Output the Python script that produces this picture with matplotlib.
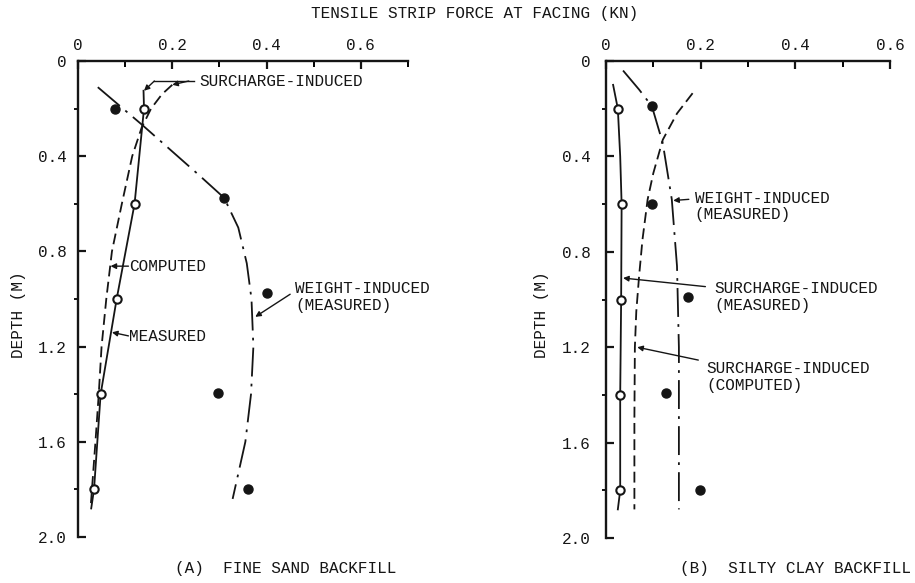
import numpy as np
import matplotlib.pyplot as plt
from matplotlib.ticker import MultipleLocator

# ---- data (force kN, depth m) ----
# (A) fine sand backfill
a_meas_x = [0.139, 0.14, 0.12, 0.082, 0.048, 0.034, 0.028]      # surcharge-induced, measured
a_meas_d = [0.125, 0.2, 0.6, 1.0, 1.4, 1.8, 1.88]
a_comp_x = [0.2, 0.178, 0.155, 0.135, 0.115, 0.093, 0.072, 0.06, 0.05, 0.044, 0.037, 0.027]  # surcharge-induced, computed
a_comp_d = [0.1, 0.14, 0.2, 0.28, 0.4, 0.6, 0.8, 1.0, 1.2, 1.4, 1.6, 1.87]
a_wt_x = [0.042, 0.137, 0.257, 0.31, 0.34, 0.358, 0.368, 0.372, 0.367, 0.355, 0.328]  # weight-induced curve
a_wt_d = [0.11, 0.27, 0.48, 0.575, 0.7, 0.85, 1.0, 1.2, 1.4, 1.6, 1.84]
a_circ_x = [0.14, 0.12, 0.082, 0.048, 0.034]
a_circ_d = [0.2, 0.6, 1.0, 1.4, 1.8]
a_dot_x = [0.078, 0.31, 0.40, 0.297, 0.36]
a_dot_d = [0.2, 0.575, 0.975, 1.395, 1.8]

# (B) silty clay backfill
b_meas_x = [0.015, 0.025, 0.03, 0.033, 0.032, 0.03, 0.03, 0.025]
b_meas_d = [0.1, 0.2, 0.4, 0.6, 1.0, 1.4, 1.8, 1.88]
b_comp_x = [0.183, 0.15, 0.12, 0.1, 0.088, 0.077, 0.07, 0.064, 0.061, 0.06, 0.06]
b_comp_d = [0.135, 0.22, 0.33, 0.47, 0.58, 0.75, 0.9, 1.05, 1.2, 1.5, 1.88]
b_wt_x = [0.036, 0.07, 0.097, 0.12, 0.139, 0.15, 0.154, 0.154]
b_wt_d = [0.04, 0.12, 0.19, 0.345, 0.58, 0.86, 1.2, 1.88]
b_circ_x = [0.025, 0.033, 0.032, 0.03, 0.03]
b_circ_d = [0.2, 0.6, 1.0, 1.4, 1.8]
b_dot_x = [0.097, 0.097, 0.173, 0.126, 0.198]
b_dot_d = [0.19, 0.6, 0.99, 1.39, 1.8]

xticks = [0, 0.2, 0.4, 0.6]
xticklabels = ['0', '0.2', '0.4', '0.6']
yticks = [0, 0.4, 0.8, 1.2, 1.6, 2.0]
yticklabels = ['0', '0.4', '0.8', '1.2', '1.6', '2.0']

ink = '#151515'
plt.rcParams['font.family'] = ['Liberation Mono', 'DejaVu Sans Mono']
plt.rcParams['font.size'] = 11.5
plt.rcParams['text.color'] = ink

DASH = (0, (6, 3))
DASHDOT = (0, (16, 4, 1.5, 4))

fig = plt.figure(figsize=(9.15, 5.83), dpi=100)
axA = fig.add_axes([78/915, 1-537/583, 330/915, 476/583])
axB = fig.add_axes([606/915, 1-538/583, 284/915, 477/583])


def style(ax, xmax, ypad):
    ax.set_xlim(0, xmax)
    ax.set_ylim(2.0, 0)
    ax.xaxis.tick_top()
    ax.spines['right'].set_visible(False)
    ax.spines['bottom'].set_visible(False)
    for s in ['left', 'top']:
        ax.spines[s].set_linewidth(1.7)
        ax.spines[s].set_color(ink)
    ax.set_xticks(xticks)
    ax.set_xticklabels(xticklabels)
    ax.set_yticks(yticks)
    ax.set_yticklabels(yticklabels)
    ax.xaxis.set_minor_locator(MultipleLocator(0.1))
    ax.yaxis.set_minor_locator(MultipleLocator(0.2))
    ax.tick_params(axis='x', which='major', direction='in', length=6, width=1.6,
                   top=True, bottom=False, pad=6, colors=ink)
    ax.tick_params(axis='x', which='minor', direction='in', length=4, width=1.4,
                   top=True, bottom=False)
    ax.tick_params(axis='y', which='major', direction='in', length=6, width=1.6,
                   pad=ypad, colors=ink)
    ax.tick_params(axis='y', which='minor', direction='out', length=3, width=1.3)


style(axA, 0.7, 8)
style(axB, 0.6, 11)

arrow = dict(arrowstyle='-|>', lw=1.0, color=ink, mutation_scale=8,
             shrinkA=0, shrinkB=0)

# ---- panel A ----
axA.plot(a_meas_x, a_meas_d, color=ink, lw=1.3)
axA.plot(a_comp_x, a_comp_d, color=ink, lw=1.3, ls=DASH)
axA.plot(a_wt_x, a_wt_d, color=ink, lw=1.3, ls=DASHDOT)
axA.plot(a_circ_x, a_circ_d, 'o', ms=6, mfc='white', mec=ink, mew=1.5, ls='none')
axA.plot(a_dot_x, a_dot_d, 'o', ms=6.5, color=ink, ls='none')

axA.text(0.257, 0.088, 'SURCHARGE-INDUCED', va='center', ha='left')
axA.plot([0.245, 0.162], [0.084, 0.084], color=ink, lw=1.0)
axA.annotate('', xy=(0.14, 0.125), xytext=(0.162, 0.084), arrowprops=arrow)
axA.annotate('', xy=(0.2, 0.1), xytext=(0.235, 0.084), arrowprops=arrow)

axA.text(0.109, 0.864, 'COMPUTED', va='center', ha='left')
axA.annotate('', xy=(0.069, 0.862), xytext=(0.107, 0.862), arrowprops=arrow)
axA.text(0.109, 1.157, 'MEASURED', va='center', ha='left')
axA.annotate('', xy=(0.072, 1.14), xytext=(0.107, 1.155), arrowprops=arrow)

axA.text(0.461, 0.99, 'WEIGHT-INDUCED\n(MEASURED)', va='center', ha='left',
         linespacing=1.15)
axA.annotate('', xy=(0.376, 1.075), xytext=(0.45, 0.98), arrowprops=arrow)

# ---- panel B ----
axB.plot(b_meas_x, b_meas_d, color=ink, lw=1.3)
axB.plot(b_comp_x, b_comp_d, color=ink, lw=1.3, ls=DASH)
axB.plot(b_wt_x, b_wt_d, color=ink, lw=1.3, ls=DASHDOT)
axB.plot(b_circ_x, b_circ_d, 'o', ms=6, mfc='white', mec=ink, mew=1.5, ls='none')
axB.plot(b_dot_x, b_dot_d, 'o', ms=6.5, color=ink, ls='none')

axB.text(0.187, 0.61, 'WEIGHT-INDUCED\n(MEASURED)', va='center', ha='left',
         linespacing=1.15)
axB.annotate('', xy=(0.142, 0.585), xytext=(0.175, 0.58), arrowprops=arrow)

axB.text(0.229, 0.99, 'SURCHARGE-INDUCED\n(MEASURED)', va='center', ha='left',
         linespacing=1.15)
axB.annotate('', xy=(0.036, 0.91), xytext=(0.21, 0.946), arrowprops=arrow)

axB.text(0.213, 1.325, 'SURCHARGE-INDUCED\n(COMPUTED)', va='center', ha='left',
         linespacing=1.15)
axB.annotate('', xy=(0.066, 1.2), xytext=(0.195, 1.254), arrowprops=arrow)

# ---- figure texts ----
fig.text(0.519, 0.976, 'TENSILE STRIP FORCE AT FACING (KN)', ha='center', va='center')
fig.text(0.02, 0.46, 'DEPTH (M)', rotation=90, ha='center', va='center')
fig.text(0.592, 0.46, 'DEPTH (M)', rotation=90, ha='center', va='center')
fig.text(286/915, 1-569/583, '(A)  FINE SAND BACKFILL', ha='center', va='center')
fig.text(796/915, 1-569/583, '(B)  SILTY CLAY BACKFILL', ha='center', va='center')

fig.savefig('out.png', dpi=100, facecolor='white')
